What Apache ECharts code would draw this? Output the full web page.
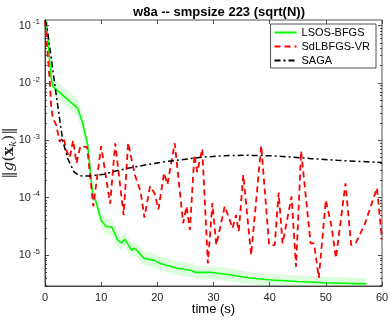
<!DOCTYPE html>
<html>
<head>
<meta charset="utf-8">
<script src="https://cdn.jsdelivr.net/npm/echarts@6/dist/echarts.min.js"></script>
<style>
  html, body { margin: 0; padding: 0; background: #fff; }
  #chart { width: 390px; height: 320px; }
</style>
</head>
<body>
<div id="chart"></div>
<script>
// LSOS-BFGS: mean curve and its shaded band
const lsosTime = [0, 0.3, 0.7, 1.07, 1.37, 5.8, 6.7, 7.6, 8.5, 9.1, 10.0, 10.9, 11.9, 12.9, 13.6, 14.2, 15.4, 15.95, 17.7, 19.5, 20.4, 21.8, 23.6, 26.1, 26.4, 26.8, 29.7, 33.2, 36.4, 40.3, 45, 49.8, 57.2];
const lsosMean = [0.125, 0.112, 0.0355, 0.013, 0.0087, 0.00363, 0.002, 8.3e-4, 1.12e-4, 8.5e-5, 4.0e-5, 3.16e-5, 3.1e-5, 1.86e-5, 1.62e-5, 1.9e-5, 1.23e-5, 1.32e-5, 8.7e-6, 8.1e-6, 7.2e-6, 6.6e-6, 5.9e-6, 5.4e-6, 5.75e-6, 5.0e-6, 5.0e-6, 4.5e-6, 4.0e-6, 3.7e-6, 3.47e-6, 3.3e-6, 3.16e-6];
const lsosHigh = [0.13, 0.12, 0.04, 0.0155, 0.0125, 0.0052, 0.0029, 0.0011, 1.5e-4, 1.1e-4, 5.4e-5, 4.3e-5, 4.2e-5, 2.5e-5, 2.2e-5, 2.5e-5, 1.65e-5, 1.75e-5, 1.15e-5, 1.07e-5, 9.5e-6, 8.7e-6, 7.8e-6, 7.1e-6, 7.5e-6, 6.5e-6, 6.4e-6, 5.8e-6, 5.1e-6, 4.7e-6, 4.4e-6, 4.2e-6, 4.0e-6];
const lsosLow = [0.11, 0.10, 0.031, 0.011, 0.0064, 0.0026, 0.0014, 6.2e-4, 8.5e-5, 6.3e-5, 3.0e-5, 2.35e-5, 2.3e-5, 1.38e-5, 1.2e-5, 1.42e-5, 9.2e-6, 9.8e-6, 6.6e-6, 6.1e-6, 5.5e-6, 5.0e-6, 4.5e-6, 4.1e-6, 4.35e-6, 3.8e-6, 3.8e-6, 3.45e-6, 3.1e-6, 2.9e-6, 2.75e-6, 2.6e-6, 2.5e-6];

// SdLBFGS-VR
const sdlTime = [0, 0.35, 0.8, 1.1, 1.4, 2.0, 2.6, 3.3, 3.9, 4.4, 5.0, 5.6, 6.3, 7.5, 8.6, 10.0, 11.6, 12.5, 14.0, 14.8, 16.0, 17.0, 17.7, 18.7, 19.5, 20.2, 21.2, 21.8, 23.1, 24.6, 25.2, 25.8, 26.6, 27.1, 28.0, 29.0, 29.8, 30.5, 32.0, 33.4, 34.0, 34.5, 35.3, 36.7, 38.5, 39.9, 40.9, 41.6, 42.3, 43.9, 44.7, 45.6, 47.3, 47.9, 48.75, 50.0, 51.0, 51.8, 53.5, 54.5, 55.3, 56.9, 59.1, 60.0];
const sdlValues = [0.12, 0.117, 0.0126, 0.004, 0.0024, 0.00186, 9.5e-4, 1.12e-3, 6.3e-4, 5.0e-4, 1.0e-3, 4.0e-4, 7.9e-4, 7.6e-4, 7.1e-5, 7.9e-4, 7.9e-5, 8.9e-4, 5.0e-5, 9.1e-4, 2.5e-4, 1.32e-4, 4.5e-5, 1.58e-4, 1.2e-4, 6.3e-5, 2.7e-4, 1.7e-4, 8.9e-4, 3.6e-5, 7.1e-5, 2.75e-5, 5.6e-4, 2.8e-4, 7.1e-4, 7.2e-6, 8.1e-5, 1.5e-5, 7.1e-5, 2.95e-5, 5.0e-5, 2.6e-5, 2.5e-4, 1.0e-5, 8.1e-4, 1.5e-5, 1.5e-5, 1.23e-4, 1.6e-5, 1.05e-4, 6.3e-6, 6.5e-4, 1.6e-5, 1.6e-5, 4.0e-6, 9.1e-5, 3.2e-5, 8.9e-6, 1.78e-4, 1.5e-5, 1.6e-5, 3.4e-5, 1.48e-4, 1.86e-5];

// SAGA
const sagaTime = [0, 0.2, 0.5, 1.0, 1.67, 2.4, 3.15, 4.0, 5.2, 6.0, 6.7, 8.0, 10.6, 12.4, 15, 18, 21, 24.3, 28, 32, 35.5, 40, 44, 47.4, 52, 56, 60];
const sagaValues = [0.125, 0.11, 0.074, 0.033, 0.0105, 0.0033, 0.001, 4.9e-4, 2.8e-4, 2.45e-4, 2.38e-4, 2.4e-4, 2.57e-4, 2.9e-4, 3.3e-4, 3.75e-4, 4.2e-4, 4.6e-4, 5.1e-4, 5.4e-4, 5.5e-4, 5.4e-4, 5.1e-4, 4.8e-4, 4.5e-4, 4.3e-4, 4.1e-4];

const seriesNames = ['LSOS-BFGS', 'SdLBFGS-VR', 'SAGA'];
const yMajor = [1e-5, 1e-4, 1e-3, 1e-2, 1e-1];
const yMin = 2.9e-6, yMax = 0.125;

const yMinor = [];
for (let e = -6; e <= -1; e++) {
  for (let m = 2; m <= 9; m++) {
    const v = m * Math.pow(10, e);
    if (v > yMin && v < yMax) yMinor.push(v);
  }
}

const pair = (xs, ys) => xs.map((x, i) => [x, ys[i]]);

const axisColor = '#262626';
const font = 'Liberation Sans, Arial, sans-serif';

const chart = echarts.init(document.getElementById('chart'));

const hiddenY = (position, ticks, len) => ({
  type: 'log', logBase: 10, min: yMin, max: yMax, position: position,
  axisLine: { show: false },
  axisLabel: { show: false },
  splitLine: { show: false },
  axisTick: { show: true, inside: true, length: len, customValues: ticks, lineStyle: { color: axisColor, width: 0.8 } }
});

chart.setOption({
  animation: false,
  backgroundColor: '#fff',
  title: {
    text: 'w8a -- smpsize 223 (sqrt(N))',
    left: 214, top: 1, textAlign: 'center',
    textStyle: { fontFamily: font, fontSize: 13, fontWeight: 'bold', color: '#000' }
  },
  grid: {
    left: 45, right: 8, top: 20, bottom: 34,
    outerBoundsMode: 'none', containLabel: false,
    show: true, borderColor: axisColor, borderWidth: 0.8
  },
  legend: {
    data: seriesNames,
    orient: 'vertical',
    right: 14, top: 24,
    backgroundColor: '#fff',
    borderColor: '#262626', borderWidth: 0.8,
    padding: [3, 6, 2, 3],
    itemWidth: 22, itemHeight: 10, itemGap: 3,
    itemStyle: { opacity: 0 },
    textStyle: { fontFamily: font, fontSize: 11, color: '#000' }
  },
  xAxis: [{
    type: 'value', min: 0, max: 60, interval: 10,
    name: 'time (s)', nameLocation: 'middle', nameGap: 17, nameMoveOverlap: false,
    nameTextStyle: { fontFamily: font, fontSize: 13, color: '#000' },
    axisLine: { lineStyle: { color: axisColor, width: 0.8 } },
    axisTick: { inside: true, length: 4, lineStyle: { color: axisColor, width: 0.8 } },
    axisLabel: { fontFamily: font, fontSize: 11, color: axisColor, margin: 6 },
    splitLine: { show: false }
  }, {
    type: 'value', min: 0, max: 60, interval: 10, position: 'top',
    axisLine: { show: false }, axisLabel: { show: false }, splitLine: { show: false },
    axisTick: { inside: true, length: 4, lineStyle: { color: axisColor, width: 0.8 } }
  }],
  yAxis: [{
    type: 'log', logBase: 10, min: yMin, max: yMax,
    name: '{n|‖}{i|g}{n|(}{b|x}{s|k}{n|)‖}',
    nameLocation: 'middle', nameGap: 27, nameRotate: 90, nameMoveOverlap: false,
    nameTextStyle: {
      color: axisColor,
      rich: {
        n: { fontFamily: 'DejaVu Serif', fontSize: 15, color: axisColor },
        i: { fontFamily: 'DejaVu Serif', fontStyle: 'italic', fontSize: 15, color: axisColor },
        b: { fontFamily: 'DejaVu Serif', fontWeight: 'bold', fontSize: 15, color: axisColor },
        s: { fontFamily: 'DejaVu Serif', fontStyle: 'italic', fontSize: 10, color: axisColor, padding: [7, 0, 0, 0] }
      }
    },
    axisLine: { lineStyle: { color: axisColor, width: 0.8 } },
    axisTick: { inside: true, length: 4, customValues: yMajor, lineStyle: { color: axisColor, width: 0.8 } },
    axisLabel: {
      customValues: yMajor,
      margin: 5,
      formatter: v => '{b|10}{e|' + Math.round(Math.log10(v)) + '}',
      rich: {
        b: { fontFamily: font, fontSize: 11, color: axisColor },
        e: { fontFamily: font, fontSize: 8, color: axisColor, padding: [0, 0, 7, 2] }
      }
    },
    splitLine: { show: false }
  },
    hiddenY('left', yMinor, 2),
    hiddenY('right', yMajor, 4),
    hiddenY('right', yMinor, 2)
  ],
  series: [
    {
      // shaded band between lsosLow and lsosHigh
      type: 'custom', silent: true, z: 1,
      data: [0],
      renderItem: function (params, api) {
        const pts = [];
        lsosTime.forEach((t, i) => pts.push(api.coord([t, lsosHigh[i]])));
        for (let i = lsosTime.length - 1; i >= 0; i--) {
          pts.push(api.coord([lsosTime[i], lsosLow[i]]));
        }
        const cs = params.coordSys;
        return {
          type: 'polygon',
          shape: { points: pts },
          style: { fill: 'rgba(0, 230, 0, 0.13)' },
          clipPath: { type: 'rect', shape: { x: cs.x, y: cs.y, width: cs.width, height: cs.height } }
        };
      }
    },
    {
      name: 'LSOS-BFGS', type: 'line', symbol: 'none', z: 3,
      data: pair(lsosTime, lsosMean),
      lineStyle: { color: '#00ff00', width: 1.6 },
      itemStyle: { color: '#00ff00' }
    },
    {
      name: 'SdLBFGS-VR', type: 'line', symbol: 'none', z: 4,
      data: pair(sdlTime, sdlValues),
      lineStyle: { color: '#ff0000', width: 1.8, type: [6, 4] },
      itemStyle: { color: '#ff0000' }
    },
    {
      name: 'SAGA', type: 'line', symbol: 'none', z: 5,
      data: pair(sagaTime, sagaValues),
      lineStyle: { color: '#000', width: 1.5, type: [6, 3, 2, 3] },
      itemStyle: { color: '#000' }
    }
  ]
});

window.addEventListener('resize', function () {
  chart.resize();
});
</script>
</body>
</html>
